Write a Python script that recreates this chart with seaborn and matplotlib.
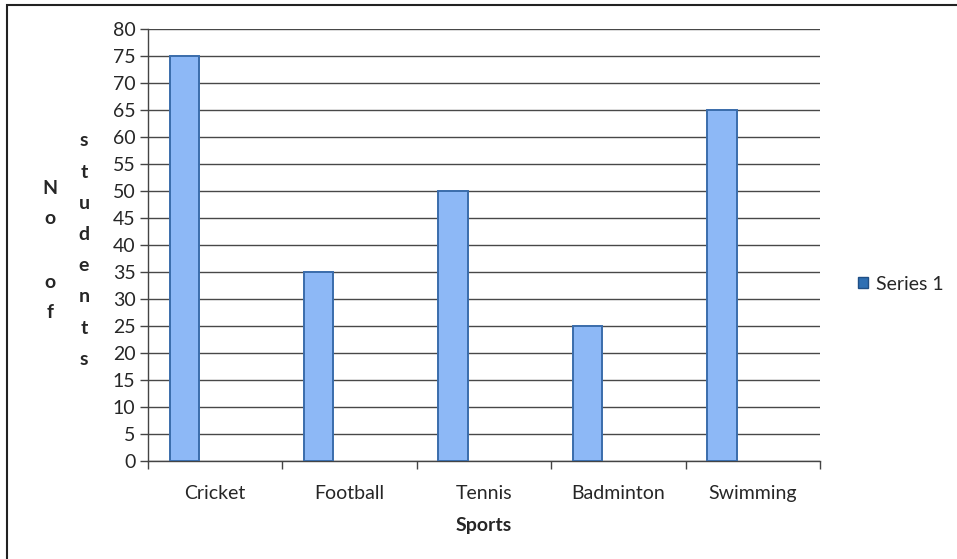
import pandas as pd
import matplotlib.pyplot as plt
import seaborn as sns
from matplotlib.patches import Rectangle

sports = ['Cricket', 'Football', 'Tennis', 'Badminton', 'Swimming']
students = [75, 35, 50, 25, 65]
series_name = 'Series 1'

df = pd.DataFrame({'Sports': sports, 'Students': students})

sns.set_style("white")
plt.rcParams['font.family'] = ['Lato', 'DejaVu Sans']

fig = plt.figure(figsize=(9.57, 5.59), dpi=100)
ax = fig.add_axes([148 / 957, 1 - 461 / 559, 672 / 957, 432 / 559])

sns.barplot(x='Sports', y='Students', data=df, color='#8db8f6',
            width=0.22, edgecolor='#3a6cab', linewidth=1.4, ax=ax,
            saturation=1, zorder=3)
# Excel-style clustered position: bar sits left of the category centre
for p in ax.patches:
    p.set_x(p.get_x() - 0.23)

ax.set_xlim(-0.5, len(sports) - 0.5)
ax.set_ylim(0, 80)
ax.set_yticks(range(0, 81, 5))
ax.yaxis.grid(True, color='#484848', linewidth=1, zorder=0)
ax.set_axisbelow(True)

ax.set_xticks(range(len(sports)))
ax.set_xticklabels(sports, fontsize=14)
ax.set_xticks([i - 0.5 for i in range(len(sports) + 1)], minor=True)
ax.tick_params(axis='x', which='major', length=0, pad=17)
ax.tick_params(axis='x', which='minor', length=6, width=1, color='#444444',
               direction='out')
ax.tick_params(axis='y', length=6, width=1, color='#444444', direction='out',
               labelsize=14, pad=3)
ax.tick_params(left=True, bottom=True, which='both')

for side in ['top', 'right']:
    ax.spines[side].set_visible(False)
for side in ['left', 'bottom']:
    ax.spines[side].set_color('#444444')
    ax.spines[side].set_linewidth(1)

ax.set_xlabel('Sports', fontsize=14, fontweight='bold', labelpad=11)
ax.set_ylabel('')

# vertically stacked y-axis title, letter by letter
for ch, y in zip('No of', [188, 218, 250, 283, 312]):
    fig.text(50 / 957, 1 - y / 559, ch, fontsize=14, fontweight='bold',
             ha='center', va='center')
for i, ch in enumerate('students'):
    fig.text(84 / 957, 1 - (141 + i * 31.2) / 559, ch, fontsize=14,
             fontweight='bold', ha='center', va='center')

handle = Rectangle((0, 0), 1, 1, facecolor='#2e6fb3', edgecolor='#1f4f85')
fig.legend([handle], [series_name], loc='center left',
           bbox_to_anchor=(840 / 957, 1 - 284 / 559), frameon=False,
           fontsize=14, handlelength=0.55, handleheight=0.55,
           handletextpad=0.4)

# outer chart border
fig.patches.append(Rectangle((7 / 957, -0.1), 1.2, 1 - 5 / 559 + 0.1,
                             transform=fig.transFigure, fill=False,
                             edgecolor='#222222', linewidth=1.5))

fig.savefig('out.png', dpi=100)
